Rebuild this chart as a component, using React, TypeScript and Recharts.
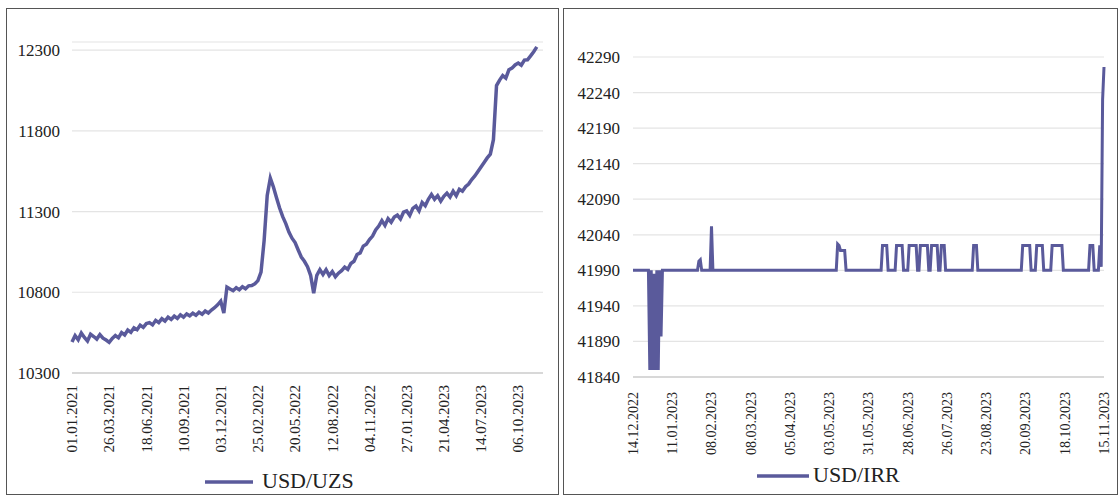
import React from "react";
import { LineChart, Line, XAxis, YAxis, CartesianGrid, Legend } from "recharts";

const FONT = '"Liberation Serif", "Times New Roman", serif';
const LINE_COLOR = "#5a5a9b";
const TEXT_COLOR = "#222";

// ---------- USD/UZS (weekly samples from 01.01.2021) ----------
const UZS_TICK_LABELS = [
  "01.01.2021", "26.03.2021", "18.06.2021", "10.09.2021", "03.12.2021",
  "25.02.2022", "20.05.2022", "12.08.2022", "04.11.2022", "27.01.2023",
  "21.04.2023", "14.07.2023", "06.10.2023",
];
const UZS_TICK_STEP = 12; // weeks between labels
const UZS_Y_TICKS = [10300, 10800, 11300, 11800, 12300];
const UZS_VALUES = [
  10492, 10532, 10506, 10548, 10520, 10498, 10540, 10526, 10510, 10538, 10516, 10504, 10490,
  10514, 10532, 10518, 10550, 10536, 10566, 10552, 10580, 10568, 10596, 10582, 10606, 10612,
  10598, 10626, 10612, 10636, 10622, 10646, 10632, 10652, 10638, 10660, 10646, 10666, 10654,
  10670, 10658, 10676, 10664, 10684, 10672, 10690, 10704, 10722,
  10745, 10671, 10832,
  10820, 10810, 10828, 10816, 10834, 10822, 10840, 10842, 10852, 10872,
  10925, 11120, 11400, 11507,
  11452, 11385, 11322, 11268, 11225, 11173, 11135, 11108, 11062, 11018, 10992, 10958, 10905, 10795, 10905,
  10940, 10910, 10940, 10904, 10928, 10896, 10918, 10934, 10956, 10942, 10978, 10992, 11034, 11044, 11086, 11098, 11126, 11148, 11186, 11210,
  11244, 11214, 11256, 11234, 11266, 11278, 11254, 11296, 11304, 11276, 11320, 11334, 11304, 11356, 11336, 11376, 11406, 11376, 11398, 11364,
  11394, 11414, 11390, 11426, 11398, 11438, 11426, 11454, 11470, 11498, 11520, 11548, 11576, 11604, 11632, 11655,
  11745, 12080, 12114, 12142, 12126, 12178, 12188, 12208, 12220, 12206, 12238, 12240, 12264, 12290, 12320,
];

// ---------- USD/IRR (day offsets from 14.12.2022) ----------
const IRR_TICK_LABELS = [
  "14.12.2022", "11.01.2023", "08.02.2023", "08.03.2023", "05.04.2023",
  "03.05.2023", "31.05.2023", "28.06.2023", "26.07.2023", "23.08.2023",
  "20.09.2023", "18.10.2023", "15.11.2023",
];
const IRR_TICK_STEP = 28; // days between labels
const IRR_Y_TICKS = [41840, 41890, 41940, 41990, 42040, 42090, 42140, 42190, 42240, 42290];
const IRR_DAYS = [
  0, 11, 12, 13, 14, 15, 16, 17, 18, 19, 20, 21,
  46, 47, 48, 49,
  55, 56, 57,
  145, 146, 147, 148, 151, 152,
  177, 178, 181, 182,
  187, 188, 192, 193,
  196, 197, 202, 203,
  204, 205, 210, 211,
  212, 213, 217, 218,
  219, 220, 222, 223,
  242, 243, 245, 246,
  277, 278, 283, 284,
  287, 288, 292, 293,
  298, 299, 306, 307,
  325, 326, 328, 329,
  332, 333, 334, 335, 336,
];
const IRR_VALUES = [
  41990, 41990, 41850, 41990, 41850, 41985, 41850, 41990, 41850, 41990, 41897, 41990,
  41990, 42003, 42005, 41990,
  41990, 42052, 41990,
  41990, 42027, 42025, 42018, 42018, 41990,
  41990, 42025, 42025, 41990,
  41990, 42025, 42025, 41990,
  41990, 42025, 42025, 41990,
  41990, 42025, 42025, 41990,
  41990, 42025, 42025, 41990,
  41990, 42025, 42025, 41990,
  41990, 42025, 42025, 41990,
  41990, 42025, 42025, 41990,
  41990, 42025, 42025, 41990,
  41990, 42025, 42025, 41990,
  41990, 42025, 42025, 41990,
  41990, 42025, 41995, 42230, 42276,
];

const uzsData = UZS_VALUES.map((v, i) => ({ w: i, v }));
const irrData = IRR_DAYS.map((d, i) => ({ d, v: IRR_VALUES[i] }));
const uzsTicks = UZS_TICK_LABELS.map((_, i) => i * UZS_TICK_STEP);
const irrTicks = IRR_TICK_LABELS.map((_, i) => i * IRR_TICK_STEP);

function RotTick(props: any) {
  const { x, y, payload, labels, step, gap, fs } = props;
  const label = labels[Math.round(payload.value / step)] ?? "";
  return (
    <g transform={`translate(${x},${y})`}>
      <text
        transform="rotate(-90)"
        x={-gap}
        y={0}
        dy="0.35em"
        textAnchor="end"
        fontSize={fs}
        fontFamily={FONT}
        fill={TEXT_COLOR}
      >
        {label}
      </text>
    </g>
  );
}

function LegendBox({ name, lineW, gap }: { name: string; lineW: number; gap: number }) {
  return (
    <div
      style={{
        display: "flex",
        alignItems: "center",
        height: 26,
        fontFamily: FONT,
        fontSize: 22,
        color: TEXT_COLOR,
        whiteSpace: "nowrap",
      }}
    >
      <svg width={lineW} height={6} style={{ position: "relative", top: 1 }}>
        <line x1={0} y1={3} x2={lineW} y2={3} stroke={LINE_COLOR} strokeWidth={3.5} />
      </svg>
      <span style={{ marginLeft: gap, lineHeight: "26px" }}>{name}</span>
    </div>
  );
}

const yTickStyle = { fill: TEXT_COLOR, fontSize: 17, fontFamily: FONT };

export default function App() {
  return (
    <div
      style={{
        position: "absolute",
        left: 0,
        top: 0,
        width: 1118,
        height: 495,
        background: "#fff",
        overflow: "hidden",
      }}
    >
      {/* panel frames */}
      <div
        style={{
          position: "absolute",
          left: 6,
          top: 8,
          width: 553,
          height: 487,
          border: "1px solid #555",
          boxSizing: "border-box",
        }}
      />
      <div
        style={{
          position: "absolute",
          left: 563,
          top: 8,
          width: 555,
          height: 487,
          border: "1px solid #555",
          boxSizing: "border-box",
        }}
      />

      {/* USD/UZS */}
      <div style={{ position: "absolute", left: 0, top: 0 }}>
        <LineChart
          width={560}
          height={495}
          data={uzsData}
          margin={{ top: 42, right: 17, bottom: 62, left: 0 }}
        >
          <CartesianGrid vertical={false} stroke="#e4e4e4" strokeWidth={1.2} />
          <XAxis
            dataKey="w"
            type="number"
            domain={[0, 152]}
            ticks={uzsTicks}
            interval={0}
            height={60}
            tickLine={false}
            tickSize={0}
            axisLine={{ stroke: "#cfcfcf", strokeWidth: 1.5 }}
            tick={(p: any) => (
              <RotTick {...p} labels={UZS_TICK_LABELS} step={UZS_TICK_STEP} gap={10} fs={15} />
            )}
          />
          <YAxis
            type="number"
            domain={[10300, 12350]}
            ticks={UZS_Y_TICKS}
            interval={0}
            width={72}
            axisLine={false}
            tickLine={false}
            tickSize={0}
            tickMargin={12}
            tick={yTickStyle}
          />
          <Line
            dataKey="v"
            type="linear"
            stroke={LINE_COLOR}
            strokeWidth={3.5}
            dot={false}
            activeDot={false}
            isAnimationActive={false}
          />
          <Legend
            layout="vertical"
            align="center"
            verticalAlign="middle"
            wrapperStyle={{ top: 468, left: 205, width: 200 }}
            content={() => <LegendBox name="USD/UZS" lineW={48} gap={9} />}
          />
        </LineChart>
      </div>

      {/* USD/IRR */}
      <div style={{ position: "absolute", left: 560, top: 0 }}>
        <LineChart
          width={558}
          height={495}
          data={irrData}
          margin={{ top: 57, right: 14, bottom: 58, left: 0 }}
        >
          <CartesianGrid vertical={false} stroke="#e4e4e4" strokeWidth={1.2} />
          <XAxis
            dataKey="d"
            type="number"
            domain={[0, 336]}
            ticks={irrTicks}
            interval={0}
            height={60}
            tickLine={false}
            tickSize={0}
            axisLine={{ stroke: "#cfcfcf", strokeWidth: 1.5 }}
            tick={(p: any) => (
              <RotTick {...p} labels={IRR_TICK_LABELS} step={IRR_TICK_STEP} gap={13} fs={14} />
            )}
          />
          <YAxis
            type="number"
            domain={[41840, 42290]}
            ticks={IRR_Y_TICKS}
            interval={0}
            width={73}
            axisLine={false}
            tickLine={false}
            tickSize={0}
            tickMargin={13}
            tick={yTickStyle}
          />
          <Line
            dataKey="v"
            type="linear"
            stroke={LINE_COLOR}
            strokeWidth={3}
            dot={false}
            activeDot={false}
            isAnimationActive={false}
          />
          <Legend
            layout="vertical"
            align="center"
            verticalAlign="middle"
            wrapperStyle={{ top: 462, left: 197, width: 200 }}
            content={() => <LegendBox name="USD/IRR" lineW={52} gap={4} />}
          />
        </LineChart>
      </div>
    </div>
  );
}
